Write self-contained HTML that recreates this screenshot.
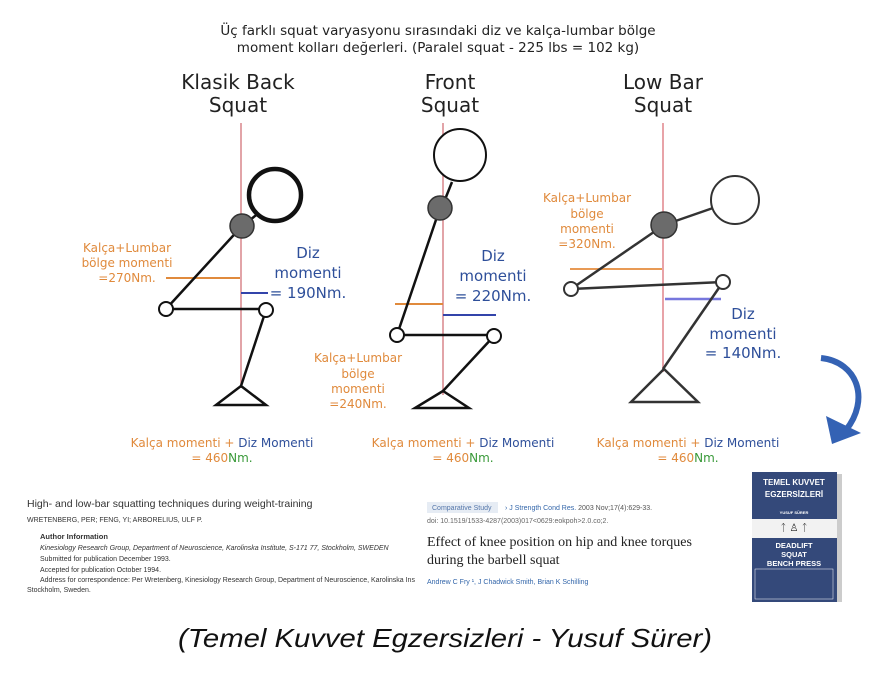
<!DOCTYPE html>
<html><head><meta charset="utf-8"><style>
html,body{margin:0;padding:0;background:#fff;}
svg{display:block;font-family:"DejaVu Sans","Liberation Sans",sans-serif;}
.o{fill:#e08a3c;font-size:12px;text-anchor:middle;}
.b{fill:#2e4f9a;font-size:15px;text-anchor:middle;}
.h{fill:#222;font-size:20px;text-anchor:middle;}
.s{fill:#333;font-size:7px;font-family:"Liberation Sans",sans-serif;}
.ls{font-family:"Liberation Sans",sans-serif;}
.sf{font-family:"Liberation Serif",serif;}
</style></head><body>
<svg width="876" height="674" viewBox="0 0 876 674">
<text x="438" y="35" text-anchor="middle" font-size="13.5" fill="#222">Üç farklı squat varyasyonu sırasındaki diz ve kalça-lumbar bölge</text>
<text x="438" y="52" text-anchor="middle" font-size="13.5" fill="#222">moment kolları değerleri. (Paralel squat - 225 lbs = 102 kg)</text>

<text class="h" x="238" y="89">Klasik Back</text><text class="h" x="238" y="112">Squat</text>
<text class="h" x="450" y="89">Front</text><text class="h" x="450" y="112">Squat</text>
<text class="h" x="663" y="89">Low Bar</text><text class="h" x="663" y="112">Squat</text>

<!-- Classic -->
<line x1="241" y1="123" x2="241" y2="388" stroke="#d9868c" stroke-width="1.5"/>
<line x1="166" y1="278" x2="240" y2="278" stroke="#e08a3c" stroke-width="2"/>
<line x1="241" y1="293" x2="268" y2="293" stroke="#3344aa" stroke-width="2"/>
<g stroke="#111" stroke-width="2.5" fill="none">
<line x1="242" y1="226" x2="166" y2="309"/>
<line x1="166" y1="309" x2="266" y2="309"/>
<line x1="266" y1="310" x2="241" y2="386"/>
<line x1="260" y1="212" x2="250" y2="220"/>
<path d="M241 386 L216 405 L266 405 Z"/>
</g>
<circle cx="275" cy="195" r="26" fill="#fff" stroke="#111" stroke-width="4.5"/>
<circle cx="242" cy="226" r="12" fill="#6b6b6b" stroke="#333" stroke-width="1.5"/>
<circle cx="166" cy="309" r="7" fill="#fff" stroke="#111" stroke-width="2"/>
<circle cx="266" cy="310" r="7" fill="#fff" stroke="#111" stroke-width="2"/>
<text class="o" x="127" y="252">Kalça+Lumbar</text>
<text class="o" x="127" y="267">bölge  momenti</text>
<text class="o" x="127" y="282">=270Nm.</text>
<text class="b" x="308" y="258">Diz</text>
<text class="b" x="308" y="278">momenti</text>
<text class="b" x="308" y="298">= 190Nm.</text>

<!-- Front -->
<line x1="443" y1="123" x2="443" y2="395" stroke="#d9868c" stroke-width="1.5"/>
<line x1="395" y1="304" x2="443" y2="304" stroke="#e08a3c" stroke-width="2"/>
<line x1="443" y1="315" x2="496" y2="315" stroke="#3344aa" stroke-width="2"/>
<g stroke="#111" stroke-width="2.5" fill="none">
<line x1="440" y1="208" x2="397" y2="335"/>
<line x1="397" y1="335" x2="494" y2="335"/>
<line x1="494" y1="336" x2="443" y2="391"/>
<line x1="452" y1="182" x2="446" y2="197"/>
<path d="M443 391 L415 408 L469 408 Z"/>
</g>
<circle cx="460" cy="155" r="26" fill="#fff" stroke="#111" stroke-width="2"/>
<circle cx="440" cy="208" r="12" fill="#6b6b6b" stroke="#333" stroke-width="1.5"/>
<circle cx="397" cy="335" r="7" fill="#fff" stroke="#111" stroke-width="2"/>
<circle cx="494" cy="336" r="7" fill="#fff" stroke="#111" stroke-width="2"/>
<text class="b" x="493" y="261">Diz</text>
<text class="b" x="493" y="281">momenti</text>
<text class="b" x="493" y="301">= 220Nm.</text>
<text class="o" x="358" y="362">Kalça+Lumbar</text>
<text class="o" x="358" y="378">bölge</text>
<text class="o" x="358" y="393">momenti</text>
<text class="o" x="358" y="408">=240Nm.</text>

<!-- Low bar -->
<line x1="663" y1="123" x2="663" y2="372" stroke="#e8a3a8" stroke-width="2"/>
<line x1="570" y1="269" x2="662" y2="269" stroke="#e89a55" stroke-width="2"/>
<line x1="665" y1="299" x2="721" y2="299" stroke="#7777dd" stroke-width="2.5"/>
<g stroke="#333" stroke-width="2.5" fill="none">
<line x1="664" y1="225" x2="571" y2="289"/>
<line x1="571" y1="289" x2="723" y2="282"/>
<line x1="723" y1="282" x2="663" y2="369"/>
<line x1="664" y1="225" x2="713" y2="208"/>
<path d="M664 369 L631 402 L698 402 Z"/>
</g>
<circle cx="735" cy="200" r="24" fill="#fff" stroke="#333" stroke-width="2"/>
<circle cx="664" cy="225" r="13" fill="#6b6b6b" stroke="#333" stroke-width="1.5"/>
<circle cx="571" cy="289" r="7" fill="#fff" stroke="#333" stroke-width="2"/>
<circle cx="723" cy="282" r="7" fill="#fff" stroke="#333" stroke-width="2"/>
<text class="o" x="587" y="202">Kalça+Lumbar</text>
<text class="o" x="587" y="218">bölge</text>
<text class="o" x="587" y="233">momenti</text>
<text class="o" x="587" y="248">=320Nm.</text>
<text class="b" x="743" y="319">Diz</text>
<text class="b" x="743" y="339">momenti</text>
<text class="b" x="743" y="358">= 140Nm.</text>

<!-- sums -->
<g font-size="12" text-anchor="middle">
<text x="222" y="447"><tspan fill="#e08a3c">Kalça momenti + </tspan><tspan fill="#2e4f9a">Diz Momenti</tspan></text>
<text x="222" y="462"><tspan fill="#e08a3c">= 460</tspan><tspan fill="#3a9a3a">Nm.</tspan></text>
<text x="463" y="447"><tspan fill="#e08a3c">Kalça momenti + </tspan><tspan fill="#2e4f9a">Diz Momenti</tspan></text>
<text x="463" y="462"><tspan fill="#e08a3c">= 460</tspan><tspan fill="#3a9a3a">Nm.</tspan></text>
<text x="688" y="447"><tspan fill="#e08a3c">Kalça momenti + </tspan><tspan fill="#2e4f9a">Diz Momenti</tspan></text>
<text x="688" y="462"><tspan fill="#e08a3c">= 460</tspan><tspan fill="#3a9a3a">Nm.</tspan></text>
</g>

<!-- arrow -->
<path d="M821 358 C858 362 870 400 846 430" stroke="#3462b4" stroke-width="6" fill="none"/>
<path d="M826 416 L832 444 L861 433 Z" fill="#3462b4"/>

<!-- book -->
<rect x="836" y="474" width="6" height="128" fill="#ccc"/>
<rect x="752" y="472" width="85" height="130" fill="#34497a"/>
<rect x="752" y="519" width="85" height="19" fill="#f2f2f2"/>
<g fill="#fff" class="ls" font-weight="bold" text-anchor="middle">
<text x="794" y="485" font-size="8">TEMEL KUVVET</text>
<text x="794" y="497" font-size="8">EGZERSİZLERİ</text>
<text x="794" y="514" font-size="4">YUSUF SÜRER</text>
<text x="794" y="548" font-size="7.5">DEADLIFT</text>
<text x="794" y="557" font-size="7.5">SQUAT</text>
<text x="794" y="566" font-size="7.5">BENCH PRESS</text>
</g>
<text x="794" y="531" font-size="10" text-anchor="middle" fill="#222">ᛏ ♙ ᛏ</text>
<rect x="755" y="569" width="78" height="30" fill="none" stroke="#fff" stroke-width="0.5"/>

<!-- citations -->
<text x="27" y="507" font-size="10.5" fill="#333" class="ls">High- and low-bar squatting techniques during weight-training</text>
<text x="27" y="522" class="s">WRETENBERG, PER; FENG, YI; ARBORELIUS, ULF P.</text>
<text x="40" y="539" font-size="7.5" fill="#333" font-weight="bold" class="ls">Author Information</text>
<text x="40" y="550" class="s" font-style="italic">Kinesiology Research Group, Department of Neuroscience, Karolinska Institute, S-171 77, Stockholm, SWEDEN</text>
<text x="40" y="561" class="s">Submitted for publication December 1993.</text>
<text x="40" y="572" class="s">Accepted for publication October 1994.</text>
<text x="40" y="582" class="s">Address for correspondence: Per Wretenberg, Kinesiology Research Group, Department of Neuroscience, Karolinska Ins</text>
<text x="27" y="592" class="s">Stockholm, Sweden.</text>

<rect x="427" y="502" width="71" height="11" fill="#e6ecf4"/>
<text x="432" y="510" font-size="7" fill="#5577aa" class="ls">Comparative Study</text>
<text x="505" y="510" font-size="7" fill="#555" class="ls"><tspan fill="#3366aa">› J Strength Cond Res.</tspan> 2003 Nov;17(4):629-33.</text>
<text x="427" y="523" font-size="7" fill="#666" class="ls">doi: 10.1519/1533-4287(2003)017&lt;0629:eokpoh&gt;2.0.co;2.</text>
<text x="427" y="546" font-size="14" fill="#222" class="sf">Effect of knee position on hip and knee torques</text>
<text x="427" y="564" font-size="14" fill="#222" class="sf">during the barbell squat</text>
<text x="427" y="584" font-size="7" fill="#3366aa" class="ls">Andrew C Fry ¹, J Chadwick Smith, Brian K Schilling</text>

<text x="445" y="647" text-anchor="middle" font-size="26" font-style="italic" fill="#111" class="ls" textLength="534" lengthAdjust="spacingAndGlyphs">(Temel Kuvvet Egzersizleri - Yusuf Sürer)</text>
</svg>
</body></html>
